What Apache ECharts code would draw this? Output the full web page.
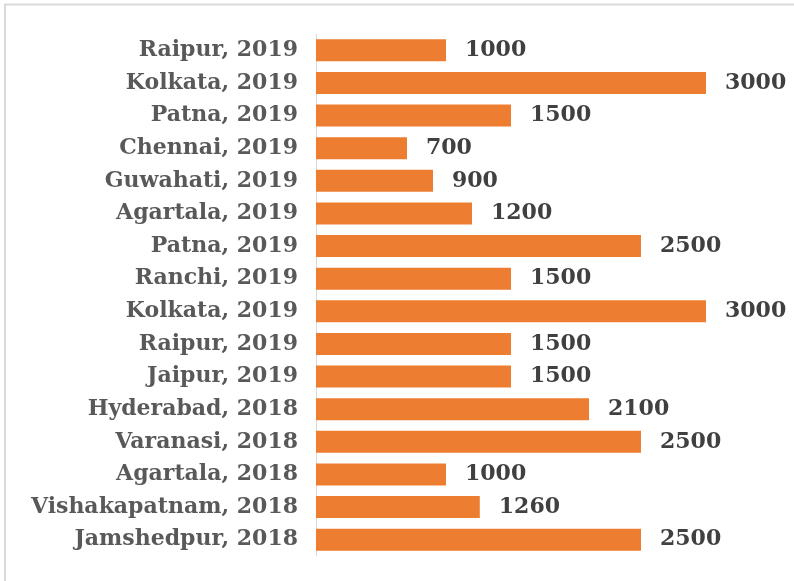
<!DOCTYPE html>
<html>
<head>
<meta charset="utf-8">
<script src="https://cdn.jsdelivr.net/npm/echarts@6/dist/echarts.min.js"></script>
<style>
  html, body { margin: 0; padding: 0; background: #fff; }
  #chart { width: 794px; height: 581px; }
</style>
</head>
<body>
<div id="chart"></div>
<script>
// categories listed top to bottom as in the picture
const cities = [
  'Raipur, 2019', 'Kolkata, 2019', 'Patna, 2019', 'Chennai, 2019',
  'Guwahati, 2019', 'Agartala, 2019', 'Patna, 2019', 'Ranchi, 2019',
  'Kolkata, 2019', 'Raipur, 2019', 'Jaipur, 2019', 'Hyderabad, 2018',
  'Varanasi, 2018', 'Agartala, 2018', 'Vishakapatnam, 2018', 'Jamshedpur, 2018'
]
const amounts = [1000, 3000, 1500, 700, 900, 1200, 2500, 1500, 3000, 1500, 1500, 2100, 2500, 1000, 1260, 2500]

const labelFont = '"DejaVu Serif", "Liberation Serif", serif'

const myChart = echarts.init(document.getElementById('chart'))
myChart.setOption({
  animation: false,
  backgroundColor: '#fff',
  grid: {
    left: 316,
    right: 23,
    top: 34,
    bottom: 25,
  },
  xAxis: {
    type: 'value',
    min: 0,
    max: 3500,
    show: false,
  },
  yAxis: {
    type: 'category',
    inverse: true,
    data: cities,
    axisTick: { show: false },
    axisLine: {
      show: true,
      lineStyle: { color: '#d9d9d9', width: 1 },
    },
    axisLabel: {
      margin: 18,
      color: '#595959',
      fontFamily: labelFont,
      fontWeight: 'bold',
      fontSize: 22,
    },
  },
  series: [
    {
      type: 'bar',
      data: amounts,
      barWidth: 22,
      itemStyle: { color: '#ed7d31' },
      label: {
        show: true,
        position: 'right',
        distance: 19,
        color: '#404040',
        fontFamily: labelFont,
        fontWeight: 'bold',
        fontSize: 22,
      },
    },
  ],
  graphic: [
    {
      type: 'polyline',
      shape: { points: [[5, 581], [5, 4.5], [794, 4.5]] },
      style: { stroke: '#d9d9d9', lineWidth: 2, fill: null },
      silent: true,
    },
  ],
})
</script>
</body>
</html>
